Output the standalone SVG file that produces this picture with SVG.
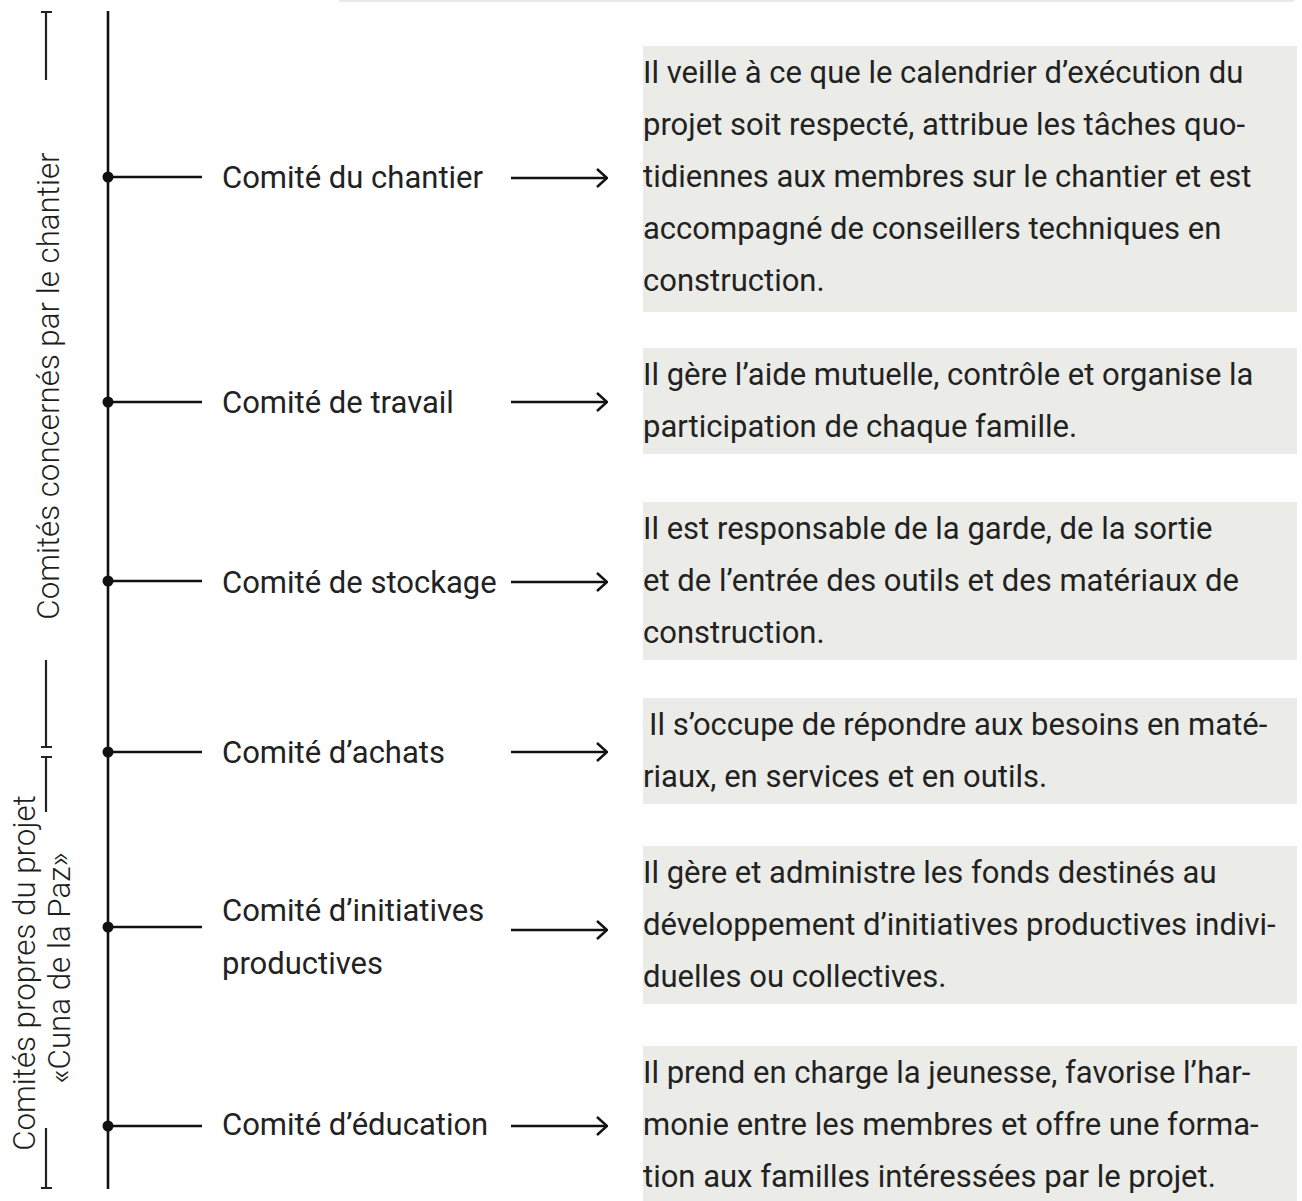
<svg xmlns="http://www.w3.org/2000/svg" width="1302" height="1201" viewBox="0 0 1302 1201">
<style>
.ln{stroke:#111;stroke-width:2.6;fill:none}
.br{stroke:#222;stroke-width:2.2;fill:none}
.dot{fill:#111}
.box{fill:#ebece8}
.lbl{font-family:Roboto,"Liberation Sans",sans-serif;font-size:31px;fill:#222}
.txt{font-family:Roboto,"Liberation Sans",sans-serif;font-size:31px;fill:#222}
.side{font-family:Roboto,"Liberation Sans",sans-serif;font-size:31.3px;font-weight:300;fill:#1e1e1e}
</style>
<defs>
<marker id="ah" viewBox="0 0 12 20" refX="11" refY="10" markerWidth="12" markerHeight="20" markerUnits="userSpaceOnUse" orient="auto">
<path d="M1,1 L11,10 L1,19" fill="none" stroke="#111" stroke-width="2.4"/>
</marker>
</defs>
<rect x="339" y="0" width="955" height="2" fill="#e8e8e4"/>
<g id="side-labels">
<path class="br" d="M41,12 H52 M46,12 V80"/>
<text class="side" transform="translate(59,386) rotate(-90)" text-anchor="middle">Comités concernés par le chantier</text>
<path class="br" d="M46,660 V747 M41,747 H52"/>
<path class="br" d="M41,757 H52 M46,757 V812"/>
<text class="side" transform="translate(35,973) rotate(-90)" text-anchor="middle">Comités propres du projet</text>
<text class="side" transform="translate(70,968) rotate(-90)" text-anchor="middle">«Cuna de la Paz»</text>
<path class="br" d="M46,1128 V1188 M41,1188 H52"/>
</g>
<g id="connectors">
<line class="ln" x1="108" y1="11" x2="108" y2="1189"/>
<line class="ln" x1="108" y1="177" x2="202" y2="177"/>
<line class="ln" x1="108" y1="402" x2="202" y2="402"/>
<line class="ln" x1="108" y1="581" x2="202" y2="581"/>
<line class="ln" x1="108" y1="752" x2="202" y2="752"/>
<line class="ln" x1="108" y1="927" x2="202" y2="927"/>
<line class="ln" x1="108" y1="1126" x2="202" y2="1126"/>
<line class="ln" x1="511" y1="178" x2="607" y2="178" marker-end="url(#ah)"/>
<line class="ln" x1="511" y1="402" x2="607" y2="402" marker-end="url(#ah)"/>
<line class="ln" x1="511" y1="582" x2="607" y2="582" marker-end="url(#ah)"/>
<line class="ln" x1="511" y1="752" x2="607" y2="752" marker-end="url(#ah)"/>
<line class="ln" x1="511" y1="930" x2="607" y2="930" marker-end="url(#ah)"/>
<line class="ln" x1="511" y1="1126" x2="607" y2="1126" marker-end="url(#ah)"/>
<circle class="dot" cx="108" cy="177" r="5.5"/>
<circle class="dot" cx="108" cy="402" r="5.5"/>
<circle class="dot" cx="108" cy="581" r="5.5"/>
<circle class="dot" cx="108" cy="752" r="5.5"/>
<circle class="dot" cx="108" cy="927" r="5.5"/>
<circle class="dot" cx="108" cy="1126" r="5.5"/>
</g>
<g id="node-chantier">
<text class="lbl" x="222" y="188">Comité du chantier</text>
<rect class="box" x="643" y="46" width="654" height="266"/>
<text class="txt" x="643"><tspan x="643" y="83">Il veille à ce que le calendrier d’exécution du</tspan><tspan x="643" y="135">projet soit respecté, attribue les tâches quo-</tspan><tspan x="643" y="187">tidiennes aux membres sur le chantier et est</tspan><tspan x="643" y="239">accompagné de conseillers techniques en</tspan><tspan x="643" y="291">construction.</tspan></text>
</g>
<g id="node-travail">
<text class="lbl" x="222" y="413">Comité de travail</text>
<rect class="box" x="643" y="348" width="654" height="106"/>
<text class="txt"><tspan x="643" y="385">Il gère l’aide mutuelle, contrôle et organise la</tspan><tspan x="643" y="437">participation de chaque famille.</tspan></text>
</g>
<g id="node-stockage">
<text class="lbl" x="222" y="593">Comité de stockage</text>
<rect class="box" x="643" y="502" width="654" height="158"/>
<text class="txt"><tspan x="643" y="539">Il est responsable de la garde, de la sortie</tspan><tspan x="643" y="591">et de l’entrée des outils et des matériaux de</tspan><tspan x="643" y="643">construction.</tspan></text>
</g>
<g id="node-achats">
<text class="lbl" x="222" y="763">Comité d’achats</text>
<rect class="box" x="643" y="698" width="654" height="106"/>
<text class="txt"><tspan x="649" y="735">Il s’occupe de répondre aux besoins en maté-</tspan><tspan x="643" y="787">riaux, en services et en outils.</tspan></text>
</g>
<g id="node-initiatives">
<text class="lbl"><tspan x="222" y="921">Comité d’initiatives</tspan><tspan x="222" y="974">productives</tspan></text>
<rect class="box" x="643" y="846" width="654" height="158"/>
<text class="txt"><tspan x="643" y="883">Il gère et administre les fonds destinés au</tspan><tspan x="643" y="935">développement d’initiatives productives indivi-</tspan><tspan x="643" y="987">duelles ou collectives.</tspan></text>
</g>
<g id="node-education">
<text class="lbl" x="222" y="1135">Comité d’éducation</text>
<rect class="box" x="643" y="1046" width="654" height="155"/>
<text class="txt"><tspan x="643" y="1083">Il prend en charge la jeunesse, favorise l’har-</tspan><tspan x="643" y="1135">monie entre les membres et offre une forma-</tspan><tspan x="643" y="1187">tion aux familles intéressées par le projet.</tspan></text>
</g>
</svg>
